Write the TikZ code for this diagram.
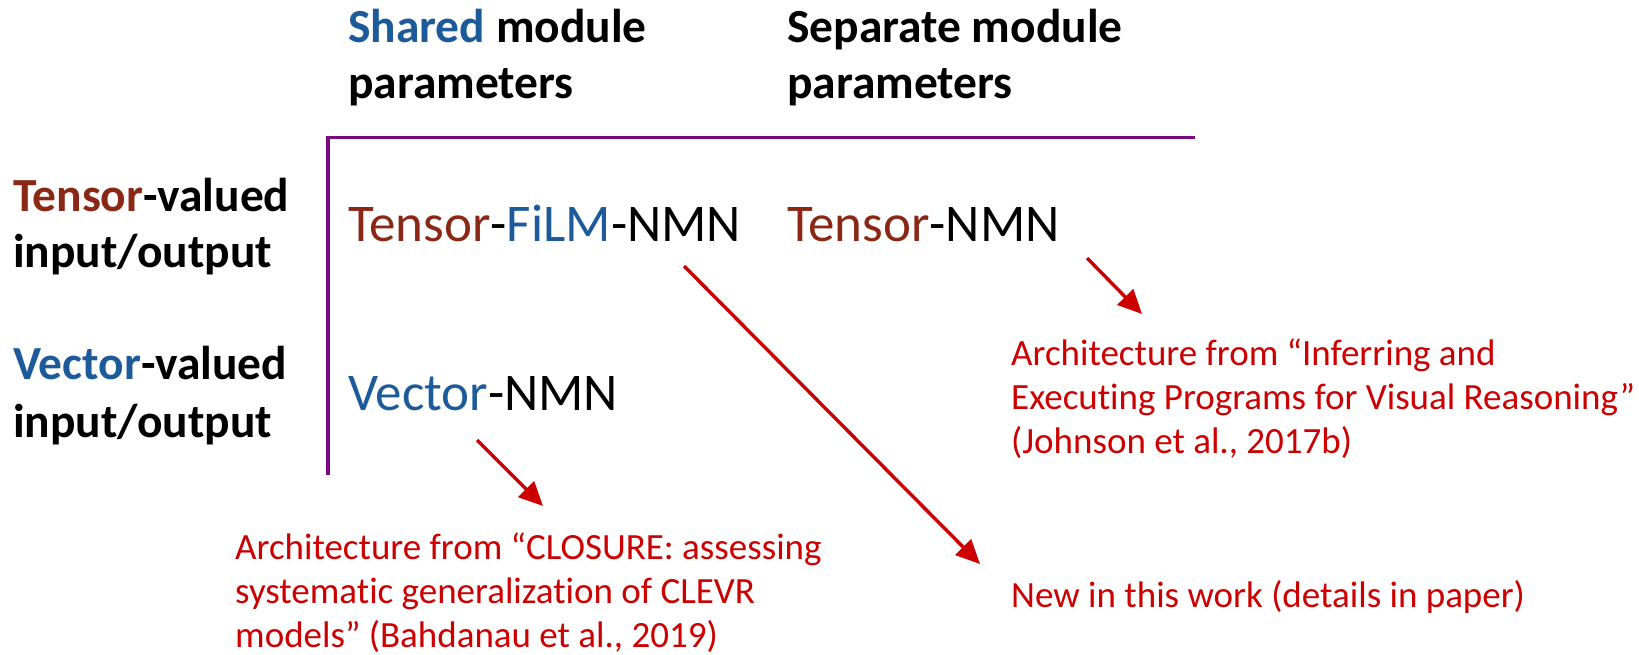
\documentclass[tikz,border=0pt]{standalone}
\usepackage{fontspec}
\setmainfont[Ligatures=NoCommon]{Carlito}
\usetikzlibrary{arrows.meta}
\definecolor{myblue}{HTML}{1D5A9A}
\definecolor{mybrown}{HTML}{8B2815}
\definecolor{mypurple}{HTML}{7A0A7E}
\definecolor{myred}{HTML}{CC0000}
\tikzset{
  head/.style={anchor=base west, inner sep=0pt, font=\bfseries\fontsize{47.5}{57}\selectfont, align=left},
  item/.style={anchor=base west, inner sep=0pt, font=\fontsize{53}{63}\selectfont},
  note/.style={anchor=base west, inner sep=0pt, text=myred, font=\fontsize{37}{44}\selectfont, align=left},
  rule/.style={draw=mypurple, line width=3.4pt},
  pointer/.style={draw=myred, line width=3.4pt, -{Triangle[length=24pt, width=22pt]}}
}
\begin{document}
\begin{tikzpicture}[x=1pt, y=-1pt]
\useasboundingbox (0,0) rectangle (1639,654);
% headings
\node[head] (h1a) at (348,42) {\textcolor{myblue}{Shared} module};
\node[head] (h1b) at (348,98) {parameters};
\node[head] (h2a) at (787,42) {Separate module};
\node[head] (h2b) at (787,98) {parameters};
\node[head] (r1a) at (13,211) {\textcolor{mybrown}{Tensor}-valued};
\node[head] (r1b) at (13,267) {input/output};
\node[head] (r2a) at (13,379) {\textcolor{myblue}{Vector}-valued};
\node[head] (r2b) at (13,437) {input/output};
% rules
\coordinate (c0) at (328,137.5);
\coordinate (c1) at (1195,137.5);
\coordinate (c2) at (328,475);
\draw[rule] (c1) -- (c0) -- (c2);
% items
\node[item] (tf) at (348,241) {\textcolor{mybrown}{Tensor}-\textcolor{myblue}{FiLM}-NMN};
\node[item] (tn) at (787,241) {\textcolor{mybrown}{Tensor}-NMN};
\node[item] (vn) at (348,410) {\textcolor{myblue}{Vector}-NMN};
% notes (anchored at the baseline of the last line)
\node[note] (n1) at (1011,453) {Architecture from “Inferring and\\Executing Programs for Visual Reasoning”\\(Johnson et al., 2017b)};
\node[note] (n2) at (235,647) {Architecture from “CLOSURE: assessing\\systematic generalization of CLEVR\\models” (Bahdanau et al., 2019)};
\node[note] (n3) at (1011,607) {New in this work (details in paper)};
% arrows
\coordinate (a1s) at (684,266);
\coordinate (a1e) at (980,564);
\coordinate (a2s) at (1087,258);
\coordinate (a2e) at (1142,314);
\coordinate (a3s) at (477,440);
\coordinate (a3e) at (543,506);
\draw[pointer] (a1s) -- (a1e);
\draw[pointer] (a2s) -- (a2e);
\draw[pointer] (a3s) -- (a3e);
\end{tikzpicture}
\end{document}
